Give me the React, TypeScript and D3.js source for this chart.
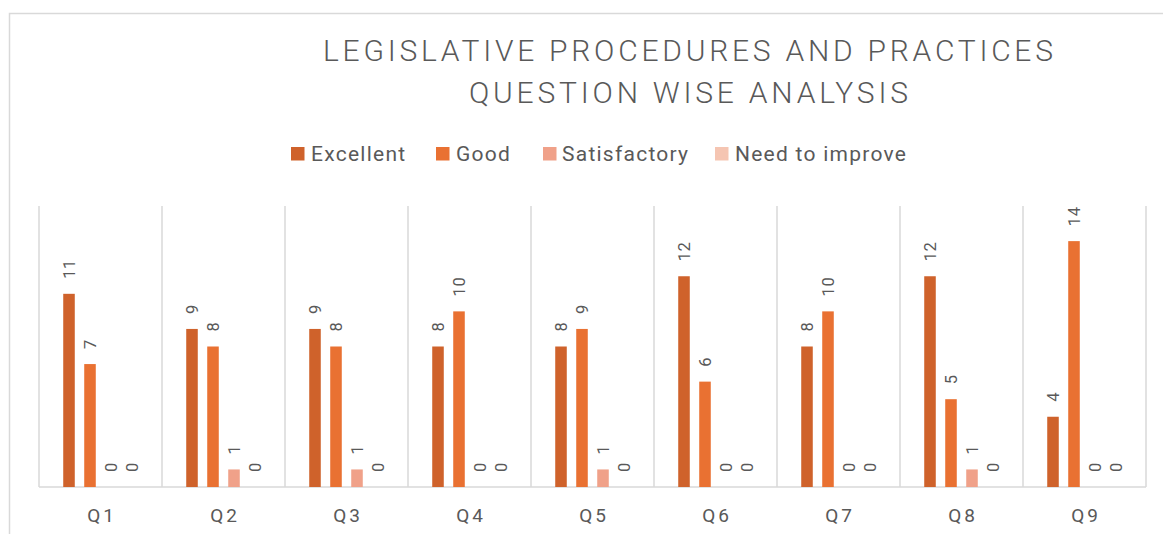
import React from 'react';
import * as d3 from 'd3';

const categories = ['Q1', 'Q2', 'Q3', 'Q4', 'Q5', 'Q6', 'Q7', 'Q8', 'Q9'];
const seriesNames = ['Excellent', 'Good', 'Satisfactory', 'Need to improve'];
const excellent = [11, 9, 9, 8, 8, 12, 8, 12, 4];
const good = [7, 8, 8, 10, 9, 6, 10, 5, 14];
const satisfactory = [0, 1, 1, 0, 1, 0, 0, 1, 0];
const needToImprove = [0, 0, 0, 0, 0, 0, 0, 0, 0];
const seriesColors = ['#CF622B', '#E97132', '#F0A189', '#F5C5B2'];
const titleLines = ['LEGISLATIVE PROCEDURES AND PRACTICES', 'QUESTION WISE ANALYSIS'];

const W = 1163;
const H = 534;
const FONT = "Roboto, 'Open Sans', sans-serif";

export default function App() {
  const seriesValues = [excellent, good, satisfactory, needToImprove];
  const x0 = d3.scaleBand<string>().domain(categories).range([39, 1146]).padding(0);
  const half = 42;
  const x1 = d3
    .scaleBand<string>()
    .domain(seriesNames)
    .range([x0.bandwidth() / 2 - half, x0.bandwidth() / 2 + half])
    .paddingInner(0.45)
    .paddingOuter(0.225);
  const y = d3.scaleLinear().domain([0, 16]).range([487, 206]);

  const legendItems = [
    { name: 'Excellent', sx: 291, tx: 311 },
    { name: 'Good', sx: 436, tx: 456 },
    { name: 'Satisfactory', sx: 543, tx: 562 },
    { name: 'Need to improve', sx: 715, tx: 735 },
  ];

  return (
    <svg
      width={W}
      height={H}
      style={{ position: 'absolute', left: 0, top: 0, background: '#fff' }}
      fontFamily={FONT}
    >
      <rect x={0} y={0} width={W} height={H} fill="#fff" />
      <rect x={9.5} y={13.5} width={W + 20} height={H + 20} fill="#fff" stroke="#D9D9D9" strokeWidth={1.5} />

      {/* title */}
      <text x={688} y={61} textAnchor="middle" fontSize={30} fontWeight={300} fill="#595959" textLength={730} lengthAdjust="spacing">
        {titleLines[0]}
      </text>
      <text x={688.5} y={103} textAnchor="middle" fontSize={30} fontWeight={300} fill="#595959" textLength={439} lengthAdjust="spacing">
        {titleLines[1]}
      </text>

      {/* legend */}
      {legendItems.map((it, i) => (
        <g key={it.name}>
          <rect x={it.sx} y={147} width={13.5} height={13.5} fill={seriesColors[i]} />
          <text x={it.tx} y={161} fontSize={21} fill="#595959" letterSpacing={1.25}>
            {it.name}
          </text>
        </g>
      ))}

      {/* separators */}
      {[...categories.map((c) => x0(c)!), 1146].map((xv, i) => (
        <line key={'sep' + i} x1={xv} x2={xv} y1={y(16)} y2={y(0)} stroke="#D9D9D9" strokeWidth={1.5} />
      ))}
      <line x1={39} x2={1146} y1={y(0)} y2={y(0)} stroke="#D9D9D9" strokeWidth={1.5} />

      {/* bars */}
      {categories.map((c, ci) => (
        <g key={c} transform={`translate(${x0(c)},0)`}>
          {seriesNames.map((s, si) => {
            const v = seriesValues[si][ci];
            const bx = x1(s)!;
            const cx = bx + x1.bandwidth() / 2;
            return (
              <g key={s}>
                {v > 0 && (
                  <rect x={bx} y={y(v)} width={x1.bandwidth()} height={y(0) - y(v)} fill={seriesColors[si]} />
                )}
                <text
                  transform={`translate(${cx},${y(v) - 15}) rotate(-90)`}
                  fontSize={16.5}
                  fill="#595959"
                  dominantBaseline="central"
                  textAnchor="start"
                  letterSpacing={0.5}
                >
                  {v}
                </text>
              </g>
            );
          })}
        </g>
      ))}

      {/* x labels */}
      {categories.map((c) => (
        <text
          key={'xl' + c}
          x={x0(c)! + x0.bandwidth() / 2 + 1.5}
          y={522}
          textAnchor="middle"
          fontSize={19}
          fill="#595959"
          letterSpacing={3}
        >
          {c}
        </text>
      ))}
    </svg>
  );
}
